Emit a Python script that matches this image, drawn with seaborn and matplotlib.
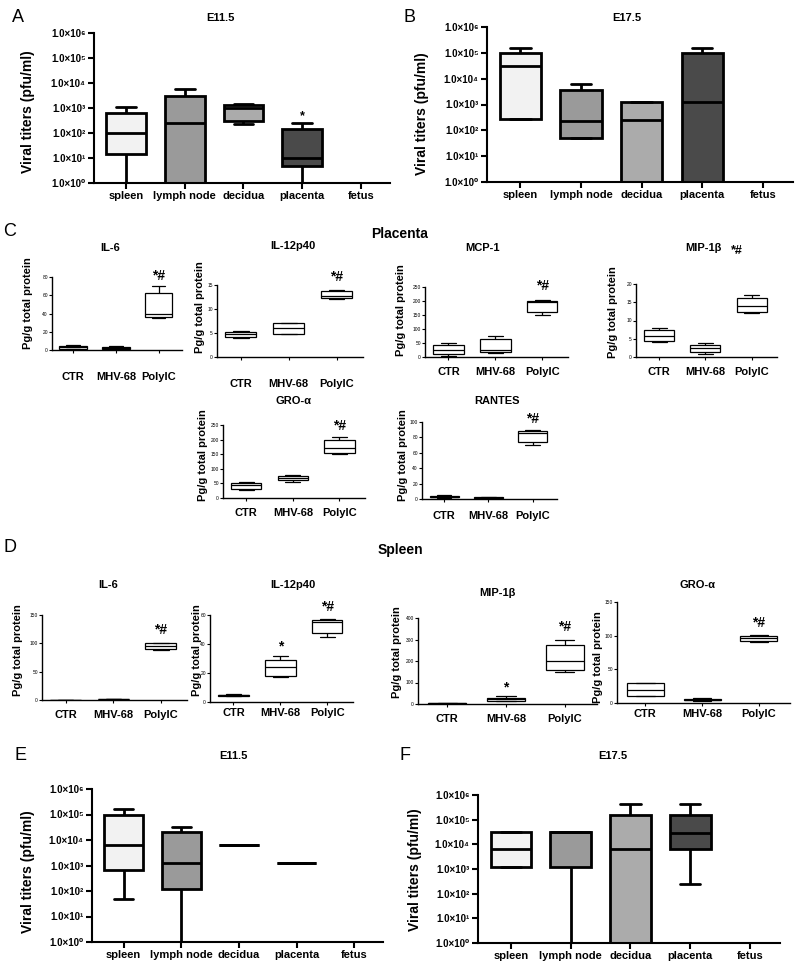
import pandas as pd
import matplotlib
matplotlib.use('Agg')
import matplotlib.pyplot as plt
import seaborn as sns
from matplotlib.ticker import NullLocator

# each group is a five-number summary: low whisker, Q1, median, Q3, high whisker
tissues = ['spleen', 'lymph node', 'decidua', 'placenta', 'fetus']
treatments = ['CTR', 'MHV-68', 'PolyIC']

A_titers = [[1, 14, 100, 650, 1100],
            [1, 1, 240, 3100, 5800],
            [230, 310, 1000, 1300, 1400],
            [1, 4.8, 10, 150, 240],
            []]
B_titers = [[270, 270, 31000, 100000, 160000],
            [52, 52, 240, 3700, 6400],
            [1, 1, 245, 1250, 1250],
            [1, 1, 1260, 100000, 160000],
            []]
E_titers = [[50, 660, 6300, 100000, 160000],
            [1, 125, 1200, 20000, 32000],
            [6300, 6300, 6300, 6300, 6300],
            [1250, 1250, 1250, 1250, 1250],
            []]
F_titers = [[1250, 1250, 6400, 32000, 32000],
            [1, 1250, 32000, 32000, 32000],
            [1, 1, 6400, 155000, 420000],
            [250, 6400, 30000, 155000, 420000],
            []]

# placenta cytokines (pg/g total protein)
pl_il6 = [[1, 1.5, 3, 4, 5], [1, 1.5, 2.5, 3.5, 4], [35, 36, 40, 62, 70]]
pl_il12 = [[4, 4.2, 4.8, 5.3, 5.5], [4.7, 4.8, 6, 7, 7], [12, 12.2, 12.8, 13.8, 14]]
pl_mcp1 = [[4, 12, 26, 44, 50], [14, 17, 24, 65, 75], [150, 161, 196, 200, 204]]
pl_mip1b = [[4, 4.3, 5.8, 7.5, 8], [0.8, 1.4, 2.5, 3.4, 3.8], [12, 12.4, 14, 16.3, 17]]
pl_gro = [[27, 32, 45, 52, 55], [56, 62, 70, 77, 80], [150, 155, 172, 200, 210]]
pl_rantes = [[1, 2, 3, 4.5, 5], [0.5, 1, 1.5, 2, 2.5], [70, 74, 86, 88, 90]]

# spleen cytokines
sp_il6 = [[0, 0, 0.3, 0.5, 0.8], [1, 1.2, 1.5, 2, 2.5], [89, 90, 95, 100, 101]]
sp_il12 = [[4, 4.2, 4.5, 5, 5.5], [17.5, 18, 24, 29, 31.5], [45, 47.5, 55.5, 56.5, 57]]
sp_mip1b = [[0, 1, 3, 5, 6], [12, 15, 22, 28, 35], [148, 160, 200, 275, 300]]
sp_gro = [[10, 10, 20, 30, 30], [3, 4, 5, 6, 7], [90, 91.5, 96, 100, 100.5]]

tissue_colors = {'spleen': '#f2f2f2', 'lymph node': '#9a9a9a', 'decidua': '#ababab',
                 'placenta': '#4a4a4a', 'fetus': '#ffffff'}

sns.set_theme(style='ticks')
plt.rcParams['font.family'] = ['Liberation Sans', 'DejaVu Sans']
for key in ['text.color', 'axes.labelcolor', 'xtick.color', 'ytick.color', 'axes.edgecolor']:
    plt.rcParams[key] = 'black'

W, H = 800, 966
fig = plt.figure(figsize=(W / 100, H / 100), dpi=100)


def px_axes(left, top, right, bottom):
    return fig.add_axes([left / W, 1 - bottom / H, (right - left) / W, (bottom - top) / H])


def ftext(x, y, s, **kw):
    kw.setdefault('ha', 'center')
    kw.setdefault('va', 'center')
    fig.text(x / W, 1 - y / H, s, **kw)


def long_table(groups, names):
    rows = []
    for name, vals in zip(names, groups):
        for v in vals:
            rows.append((name, v))
    return pd.DataFrame(rows, columns=['group', 'value'])


sup = str.maketrans('0123456789', '⁰¹²³⁴⁵⁶⁷⁸⁹')


def titer_panel(box, groups, letter, title, letter_xy, title_xy, ylab_xy, stars=None):
    ax = px_axes(*box)
    df = long_table(groups, tissues)
    sns.boxplot(data=df, x='group', y='value', hue='group', order=tissues, hue_order=tissues,
                palette=tissue_colors, saturation=1, whis=(0, 100), width=0.68,
                linecolor='black', linewidth=2, showfliers=False, log_scale=True,
                legend=False, ax=ax)
    ax.set_ylim(1, 1e6)
    ax.set_xlim(-0.55, 4.5)
    ticks = [10 ** k for k in range(7)]
    ax.set_yticks(ticks)
    ax.set_yticklabels(['1.0×10' + str(k).translate(sup) for k in range(7)])
    ax.yaxis.set_minor_locator(NullLocator())
    ax.set_xlabel('')
    ax.set_ylabel('')
    ax.tick_params(axis='y', labelsize=7, length=4, width=1.5, pad=2)
    ax.tick_params(axis='x', labelsize=8, length=4, width=1.5, pad=2)
    for lab in ax.get_xticklabels() + ax.get_yticklabels():
        lab.set_fontweight('bold')
    for s in ['left', 'bottom']:
        ax.spines[s].set_linewidth(1.5)
    sns.despine(ax=ax)
    if stars:
        for xi, yv, s in stars:
            ax.text(xi, yv, s, ha='center', va='bottom', fontsize=9, fontweight='bold')
    ftext(*letter_xy, letter, fontsize=13)
    ftext(*title_xy, title, fontsize=8, fontweight='bold')
    ftext(*ylab_xy, 'Viral titers (pfu/ml)', fontsize=10, fontweight='bold', rotation=90)
    return ax


def cyto_panel(box, groups, title, ymax, step, title_xy, ylab_xy, pad, stars=()):
    ax = px_axes(*box)
    df = long_table(groups, treatments)
    sns.boxplot(data=df, x='group', y='value', order=treatments, color='white',
                saturation=1, whis=(0, 100), width=0.65, linecolor='black',
                linewidth=0.9, showfliers=False, ax=ax)
    ax.set_ylim(0, ymax)
    ax.set_xlim(-0.5, 2.55)
    ax.set_yticks(list(range(0, ymax + 1, step)))
    ax.set_xlabel('')
    ax.set_ylabel('')
    ax.tick_params(axis='y', labelsize=3.5, length=2, width=0.8, pad=1)
    ax.tick_params(axis='x', labelsize=8, length=2.5, width=0.8, pad=pad)
    for lab in ax.get_xticklabels():
        lab.set_fontweight('bold')
    for s in ['left', 'bottom']:
        ax.spines[s].set_linewidth(1)
    sns.despine(ax=ax)
    for xi, yv, s in stars:
        ax.text(xi, yv, s, ha='center', va='center', fontsize=10, fontweight='bold')
    ftext(*title_xy, title, fontsize=8, fontweight='bold')
    ftext(*ylab_xy, 'Pg/g total protein', fontsize=8, fontweight='bold', rotation=90)
    return ax


# A / B
titer_panel((94, 33, 390, 183), A_titers, 'A', 'E11.5', (18, 18), (220, 18), (28, 112),
            stars=[(3, 270, '*')])
titer_panel((487, 27, 793, 182), B_titers, 'B', 'E17.5', (410, 18), (627, 18), (422, 114))

# C: placenta
ftext(10, 231, 'C', fontsize=13)
ftext(400, 234, 'Placenta', fontsize=10, fontweight='bold')
cyto_panel((52, 277, 182, 350), pl_il6, 'IL-6', 80, 20, (110, 248), (28, 303), 13,
           stars=[(2, 81, '*#')])
cyto_panel((217, 285, 363, 357), pl_il12, 'IL-12p40', 15, 5, (293, 246), (200, 307), 13,
           stars=[(2, 16.6, '*#')])
cyto_panel((425, 287, 568, 357), pl_mcp1, 'MCP-1', 250, 50, (482, 248), (401, 310), 5,
           stars=[(2, 255, '*#')])
cyto_panel((636, 284, 777, 357), pl_mip1b, 'MIP-1β', 20, 5, (703, 248), (613, 312), 5)
ftext(737, 251, '*#', fontsize=9, fontweight='bold')
cyto_panel((223, 425, 365, 498), pl_gro, 'GRO-α', 250, 50, (293, 401), (203, 455), 5,
           stars=[(2, 246, '*#')])
cyto_panel((422, 422, 557, 499), pl_rantes, 'RANTES', 100, 20, (497, 401), (403, 455), 6,
           stars=[(2, 104, '*#')])

# D: spleen
ftext(10, 548, 'D', fontsize=13)
ftext(400, 550, 'Spleen', fontsize=10, fontweight='bold')
cyto_panel((42, 615, 187, 700), sp_il6, 'IL-6', 150, 50, (108, 585), (18, 650), 5,
           stars=[(2, 123, '*#')])
cyto_panel((210, 615, 353, 702), sp_il12, 'IL-12p40', 60, 20, (293, 585), (197, 650), 2,
           stars=[(1, 38.5, '*'), (2, 65.5, '*#')])
cyto_panel((418, 618, 597, 704), sp_mip1b, 'MIP-1β', 400, 100, (497, 593), (397, 652), 5,
           stars=[(1, 75, '*'), (2, 358, '*#')])
cyto_panel((617, 602, 790, 703), sp_gro, 'GRO-α', 150, 50, (697, 585), (598, 657), 2,
           stars=[(2, 119, '*#')])

# E / F
titer_panel((92, 789, 383, 942), E_titers, 'E', 'E11.5', (20, 755), (233, 756), (28, 872))
titer_panel((478, 795, 780, 943), F_titers, 'F', 'E17.5', (405, 755), (613, 756), (415, 870))

fig.savefig('out.png', dpi=100)
